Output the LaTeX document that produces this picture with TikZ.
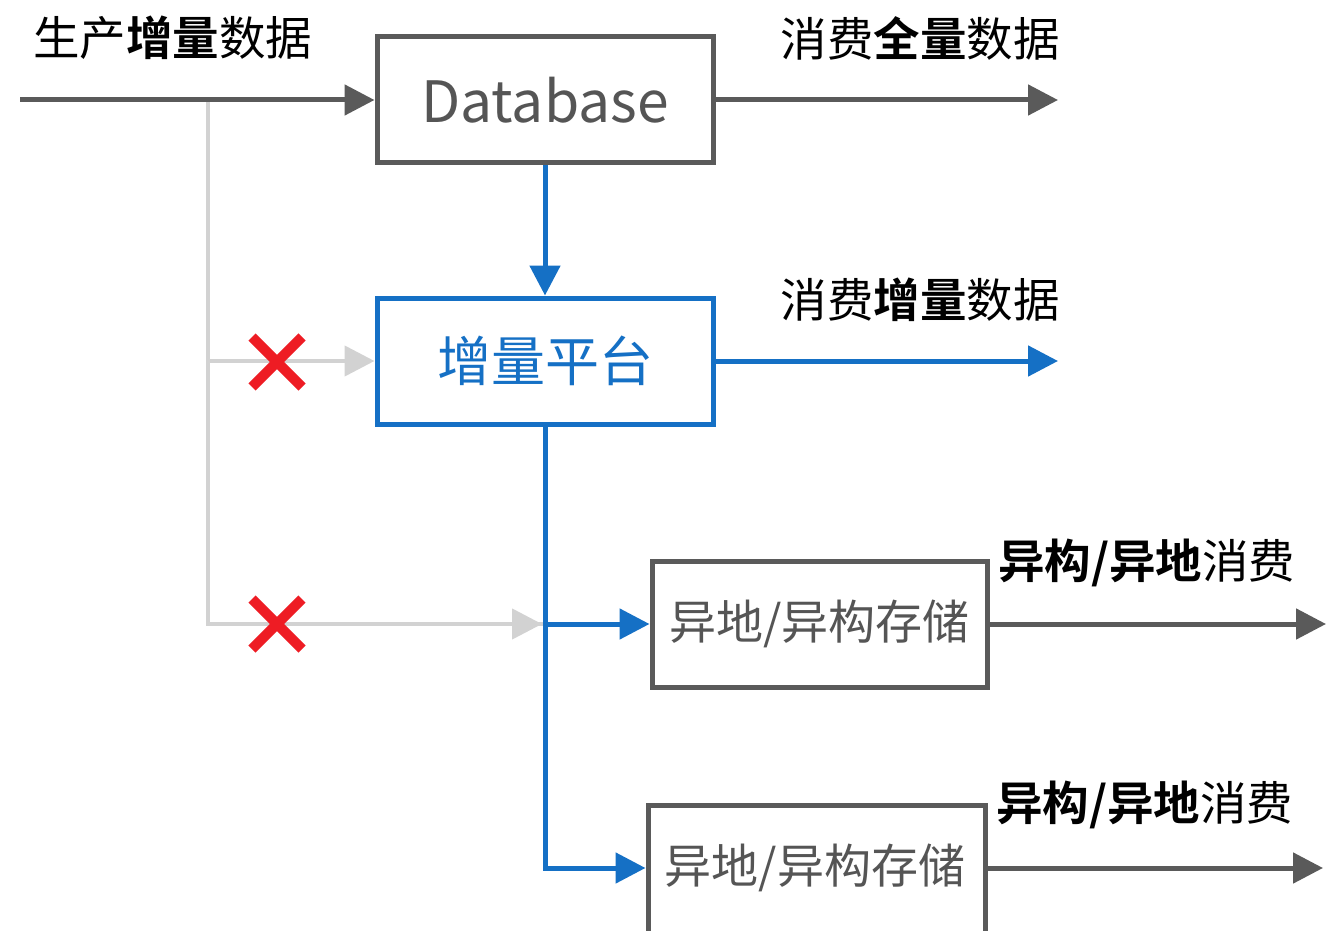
\documentclass[tikz,border=0pt]{standalone}
\usepackage{fontspec}
\setmainfont{Noto Sans CJK SC}[BoldFont={Noto Sans CJK SC Bold}]
\usetikzlibrary{arrows.meta,shapes.misc}
\definecolor{dkline}{HTML}{5A5A5A}
\definecolor{bline}{HTML}{1570C5}
\definecolor{lgline}{HTML}{D2D2D2}
\definecolor{boxtext}{HTML}{555555}
\definecolor{xred}{HTML}{EE1C24}
\tikzset{
  tip/.style={-{Triangle[length=30pt,width=30pt]}},
  dk/.style={draw=dkline,line width=5pt,tip},
  bl/.style={draw=bline,line width=5pt},
  lg/.style={draw=lgline,line width=4.5pt},
  gbox/.style={draw=dkline,line width=5pt,minimum width=336pt,minimum height=126pt,inner sep=0pt,text=boxtext,font=\fontsize{46}{50}\selectfont},
  bbox/.style={gbox,draw=bline,text=bline,font=\fontsize{54}{60}\selectfont},
  lbl/.style={inner sep=0pt,text=black,font=\fontsize{46.5}{50}\selectfont},
  xmark/.style={cross out,draw=xred,line width=10pt,minimum size=40pt,inner sep=0pt},
}
\begin{document}
\begin{tikzpicture}[x=1pt,y=-1pt]
\useasboundingbox (0,0) rectangle (1331,931);
\clip (0,0) rectangle (1331,931);
\fill[white] (0,0) rectangle (1331,931);
% boxes
\node[gbox,font=\fontsize{57}{64}\selectfont] (db) at (545,100) {Database};
\node[bbox] (inc) at (545,361) {增量平台};
\node[gbox,minimum width=335pt,font=\fontsize{47}{50}\selectfont] (s1) at (819.5,624) {异地/异构存储};
\node[gbox,minimum width=337pt,minimum height=134pt] (s2) at (816.5,872) {};
\node[inner sep=0pt,text=boxtext,font=\fontsize{47}{50}\selectfont] (s2t) at (815,868) {异地/异构存储};
% coordinates
\coordinate (in) at (20,100);
\coordinate (split) at (208,100);
\coordinate (g1) at (208,361);
\coordinate (o1) at (1058,100);
\coordinate (o2) at (1058,361);
\coordinate (o3) at (1326,624);
\coordinate (o4) at (1323,868);
\coordinate (j1) at (545,624);
\coordinate (j2) at (545,868);
% light gray (blocked) paths
\draw[lg] (split) -- (208,624) -- (j1);
\draw[lg,tip,shorten >=3pt] (208,624) -- (j1);
\draw[lg,tip] (g1) -- (inc.west);
% red crosses
\node[xmark] (x1) at (277,362) {};
\node[xmark] (x2) at (277,624) {};
% dark gray arrows
\draw[dk] (in) -- (db.west);
\draw[dk] (db.east) -- (o1);
\draw[dk] (s1.east) -- (o3);
\draw[dk] (s2.east |- o4) -- (o4);
% blue arrows
\draw[bl,tip] (db.south) -- (inc.north);
\draw[bl,tip] (inc.east) -- (o2);
\draw[bl,tip] (inc.south) -- (j2) -- (s2.west |- j2);
\draw[bl,tip] (j1) -- (s1.west);
% labels
\node[lbl,anchor=west] (l1) at (33,38) {生产\textbf{增量}数据};
\node[lbl,anchor=east] (l2) at (1060,38) {消费\textbf{全量}数据};
\node[lbl,anchor=east] (l3) at (1060,300) {消费\textbf{增量}数据};
\node[lbl,anchor=west] (l4) at (998,563) {\textbf{异构/异地}消费};
\node[lbl,anchor=west] (l5) at (996,805) {\textbf{异构/异地}消费};
\end{tikzpicture}
\end{document}
